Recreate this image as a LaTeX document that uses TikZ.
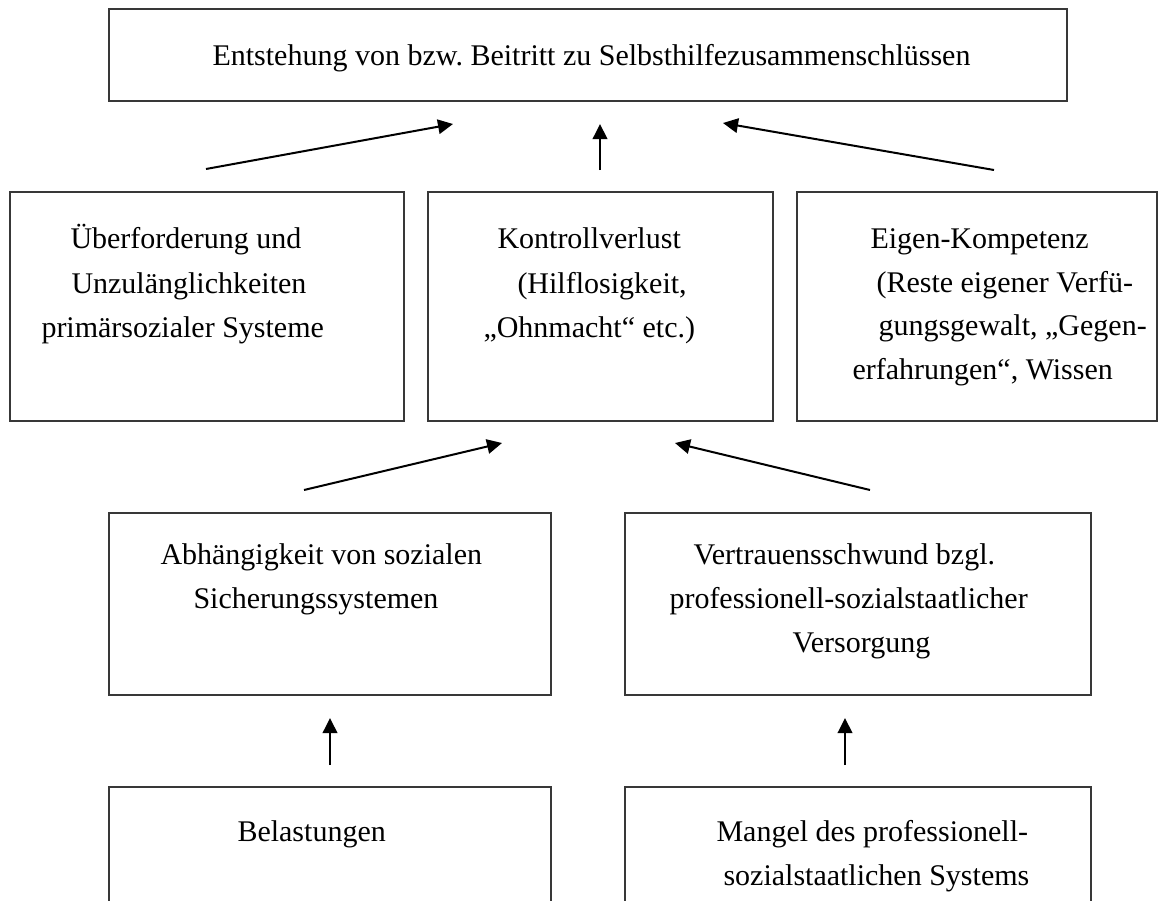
\documentclass[tikz,border=0pt]{standalone}
\usepackage{fontspec}
\setmainfont{Liberation Serif}
\usetikzlibrary{arrows.meta,fit}
\frenchspacing
\begin{document}
\begin{tikzpicture}[x=0.4pt,y=-0.4pt,
  boxnode/.style={draw=black!78,line width=0.8pt,rectangle,inner sep=0pt},
  txt/.style={anchor=base west,inner sep=0pt,font=\fontsize{12}{14}\selectfont\frenchspacing,text=black},
  arr/.style={draw=black,line width=0.8pt,-{Triangle[length=6pt,width=5.8pt]}}]
\useasboundingbox (0,0) rectangle (1159,900);
\clip (0,0) rectangle (1159,900);
% boxes
\node[boxnode,fit={(109,9)(1067,101)}] (top) {};
\node[boxnode,fit={(10,192)(404,421)}] (over) {};
\node[boxnode,fit={(428,192)(773,421)}] (kontr) {};
\node[boxnode,fit={(797,192)(1157,421)}] (eigen) {};
\node[boxnode,fit={(109,513)(551,695)}] (abh) {};
\node[boxnode,fit={(625,513)(1091,695)}] (vert) {};
\node[boxnode,fit={(109,787)(551,960)}] (bel) {};
\node[boxnode,fit={(625,787)(1091,960)}] (mang) {};
% texts
\node[txt] (t0) at (212,65) {Entstehung von bzw.\ Beitritt zu Selbsthilfezusammenschlüssen};
\node[txt] (t1a) at (70,248) {Überforderung und};
\node[txt] (t1b) at (71,293) {Unzulänglichkeiten};
\node[txt] (t1c) at (41,337) {primärsozialer Systeme};
\node[txt] (t2a) at (497,248) {Kontrollverlust};
\node[txt] (t2b) at (517,293) {(Hilflosigkeit,};
\node[txt] (t2c) at (483,337) {„Ohnmacht“ etc.)};
\node[txt] (t3a) at (870,248) {Eigen-Kompetenz};
\node[txt] (t3b) at (876,292) {(Reste eigener Verfü-};
\node[txt] (t3c) at (878,335) {gungsgewalt, „Gegen-};
\node[txt] (t3d) at (852,379) {erfahrungen“, Wissen};
\node[txt] (t4a) at (160,564) {Abhängigkeit von sozialen};
\node[txt] (t4b) at (193,608) {Sicherungssystemen};
\node[txt] (t5a) at (693,564) {Vertrauensschwund bzgl.};
\node[txt] (t5b) at (669,608) {professionell-sozialstaatlicher};
\node[txt] (t5c) at (792,652) {Versorgung};
\node[txt] (t6a) at (237,841) {Belastungen};
\node[txt] (t7a) at (716,841) {Mangel des professionell-};
\node[txt] (t7b) at (723,885) {sozialstaatlichen Systems};
% arrow end points
\coordinate (a1s) at (206,169); \coordinate (a1e) at (453,124);
\coordinate (a2s) at (600,170); \coordinate (a2e) at (600,124);
\coordinate (a3s) at (994,170); \coordinate (a3e) at (723,123);
\coordinate (a4s) at (304,490); \coordinate (a4e) at (502,443);
\coordinate (a5s) at (870,490); \coordinate (a5e) at (675,443);
\coordinate (a6s) at (330,765); \coordinate (a6e) at (330,718);
\coordinate (a7s) at (845,765); \coordinate (a7e) at (845,718);
\draw[arr] (a1s) -- (a1e);
\draw[arr] (a2s) -- (a2e);
\draw[arr] (a3s) -- (a3e);
\draw[arr] (a4s) -- (a4e);
\draw[arr] (a5s) -- (a5e);
\draw[arr] (a6s) -- (a6e);
\draw[arr] (a7s) -- (a7e);
\end{tikzpicture}
\end{document}
